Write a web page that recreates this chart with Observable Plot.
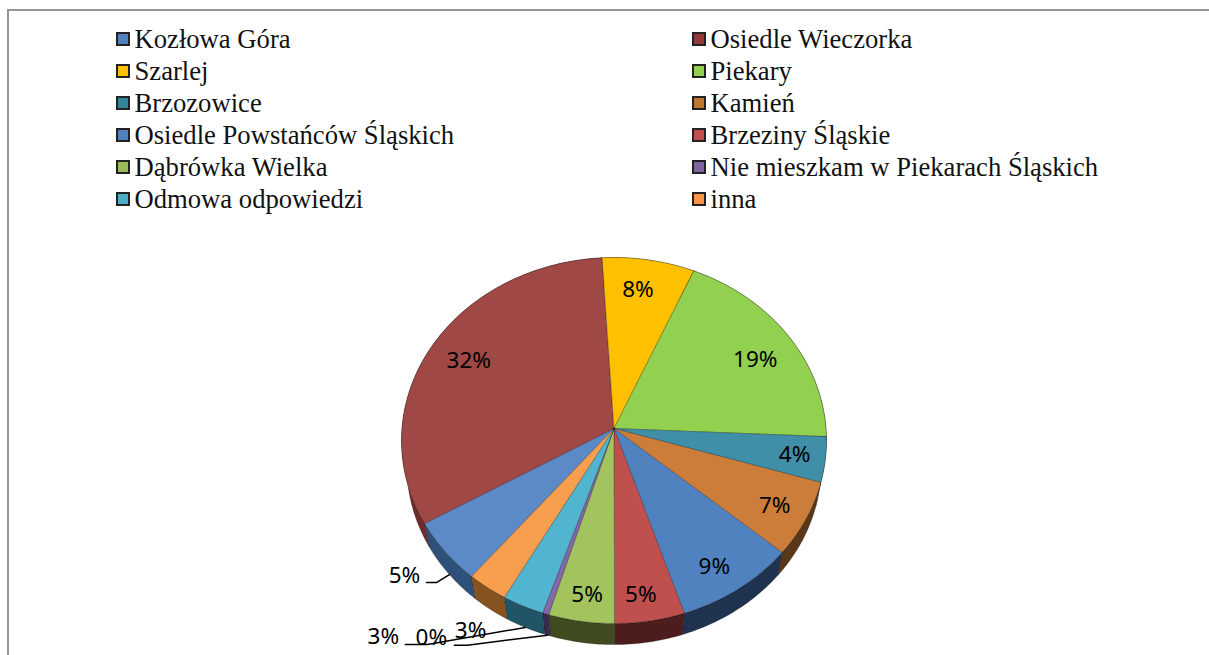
<!DOCTYPE html>
<html lang="pl">
<head>
<meta charset="utf-8">
<script src="https://cdn.jsdelivr.net/npm/d3@7"></script>
<script src="https://cdn.jsdelivr.net/npm/@observablehq/plot@0.6"></script>
<style>
  html, body { margin: 0; padding: 0; background: #fff; overflow: hidden; }
  #frame { position: absolute; left: 7px; top: 9px; right: 0; height: 646px;
           border-top: 2px solid #969696; border-left: 2px solid #969696; box-sizing: border-box; }
  #legend { position: absolute; left: 116px; top: 23px; width: 1000px; display: grid;
            grid-template-columns: 576px 424px; grid-auto-rows: 32px;
            font: 26.65px "Liberation Serif", serif; color: #111; }
  .item { display: flex; align-items: center; white-space: nowrap; }
  .sw { width: 10px; height: 10px; border: 2.5px solid #222; margin-right: 4.5px; flex: none; }
  #chart { position: absolute; left: 0; top: 220px; }
  #chart svg { display: block; }
</style>
</head>
<body>
<div id="frame"></div>
<div id="legend"></div>
<div id="chart"></div>
<script>
// Values
const categories = ["Kozłowa Góra", "Osiedle Wieczorka", "Szarlej", "Piekary", "Brzozowice", "Kamień",
  "Osiedle Powstańców Śląskich", "Brzeziny Śląskie", "Dąbrówka Wielka",
  "Nie mieszkam w Piekarach Śląskich", "Odmowa odpowiedzi", "inna"];
const shares = [5.6, 32.5, 7.5, 19.2, 4.0, 6.6, 8.7, 5.0, 4.7, 0.45, 3.0, 2.9];
const percentLabels = ["5%", "32%", "8%", "19%", "4%", "7%", "9%", "5%", "5%", "0%", "3%", "3%"];
const legendColors = ["#4f81bd", "#953735", "#ffc000", "#92d050", "#31859c", "#c0752f",
  "#4f81bd", "#c0504d", "#9bbb59", "#8064a2", "#4bacc6", "#f79646"];
const topColors = ["#5b8ac6", "#a04845", "#ffc000", "#92d050", "#3f8fa8", "#cc7d39",
  "#5082c0", "#c0504d", "#a3c35f", "#8568ab", "#52b5d0", "#f79f4f"];
const wallColors = ["#2f5078", "#6e2b2b", "#8a6c00", "#55772d", "#1f5566", "#59381a",
  "#1f3350", "#4d1c1c", "#404a20", "#3a2a50", "#1f5566", "#85531f"];

// Layout
const W = 1209, H = 435, top0 = 220;
const cx = 613.5, cy = 428, R = 212, S = 182.2;
const k = 0.0656, startAngle = 219.6, depth = 26 / S, wallScale = 0.975;
// inner labels: [radius fraction, angle shift]; outer ones: pixel offset from the rim anchor
const innerLabels = {1: [0.8, 0.5], 2: [0.81, -1.6], 3: [0.785, 2.5], 4: [0.856, 0], 5: [0.846, 0.6], 6: [0.85, 1.7], 7: [0.868, 1.2], 8: [0.868, -0.4]};
const outerLabels = {0: [-45, 1], 9: [-116, 3], 10: [-142, 9], 11: [-20, 21]};
const leaderBends = {0: [[-13, 8], [-23, 8]], 9: [[-80, 10], [-93, 10]], 10: [[-98, 17], [-120, 17]]};

const project = (r, deg) => {
  const a = deg * Math.PI / 180, u = r * Math.sin(a), v = r * Math.cos(a), d = 1 + k * v;
  return [u / d, v / d];
};
const wall = ([x, y]) => [x * wallScale, y * wallScale - depth];

const total = d3.sum(shares);
let acc = startAngle;
const slices = categories.map((name, i) => {
  const a0 = acc, a1 = acc + shares[i] / total * 360; acc = a1;
  return {i, name, a0, a1, mid: (a0 + a1) / 2};
});

const arc = s => {
  const n = Math.max(2, Math.ceil(s.a1 - s.a0));
  return d3.range(n + 1).map(j => project(1, s.a0 + (s.a1 - s.a0) * j / n));
};
const facePts = [], wallPts = [];
for (const s of slices) {
  const rim = arc(s), apex = [0, 0];
  [apex, ...rim, apex].forEach(([x, y]) => facePts.push({x, y, z: s.i, fill: topColors[s.i]}));
  const low = rim.map(wall).reverse();
  [...rim, ...low, rim[0]].forEach(([x, y]) => wallPts.push({x, y, z: s.i, fill: wallColors[s.i]}));
}

const px = (dx) => dx / R, py = (dy) => -dy / S;
const labels = slices.map(s => {
  let p;
  if (innerLabels[s.i]) { const [r, da] = innerLabels[s.i]; p = project(r, s.mid + da); }
  else {
    const a = wall(project(1, s.mid)), o = outerLabels[s.i];
    p = [a[0] + px(o[0]), a[1] + py(o[1])];
  }
  return {x: p[0], y: p[1], text: percentLabels[s.i]};
});
const leaderPts = [];
for (const key of Object.keys(leaderBends)) {
  const s = slices[+key], a = wall(project(1, s.mid));
  leaderPts.push({x: a[0], y: a[1], z: s.i});
  leaderBends[key].forEach(([dx, dy]) => leaderPts.push({x: a[0] + px(dx), y: a[1] + py(dy), z: s.i}));
}

const chart = Plot.plot({
  width: W, height: H,
  margin: 0,
  x: {domain: [-1, 1], range: [cx - R, cx + R], axis: null},
  y: {domain: [-1, 1], range: [cy + S - top0, cy - S - top0], axis: null},
  style: {background: "transparent", overflow: "visible"},
  marks: [
    Plot.line(wallPts, {x: "x", y: "y", z: "z", fill: "fill", stroke: "#000", strokeOpacity: 0.4, strokeWidth: 0.6, curve: "linear"}),
    Plot.line(facePts, {x: "x", y: "y", z: "z", fill: "fill", stroke: "#000", strokeOpacity: 0.45, strokeWidth: 0.6, curve: "linear"}),
    Plot.line(leaderPts, {x: "x", y: "y", z: "z", stroke: "#000", strokeWidth: 1.5, curve: "linear"}),
    Plot.text(labels, {x: "x", y: "y", text: "text", fontSize: 22.5, fontFamily: "Noto Sans", fill: "#000", textAnchor: "middle", lineAnchor: "middle"})
  ]
});
document.getElementById("chart").appendChild(chart);

const legend = document.getElementById("legend");
categories.forEach((name, i) => {
  const item = document.createElement("div");
  item.className = "item";
  const sw = document.createElement("span");
  sw.className = "sw";
  sw.style.background = legendColors[i];
  const t = document.createElement("span");
  t.textContent = name;
  item.append(sw, t);
  legend.appendChild(item);
});
</script>
</body>
</html>
